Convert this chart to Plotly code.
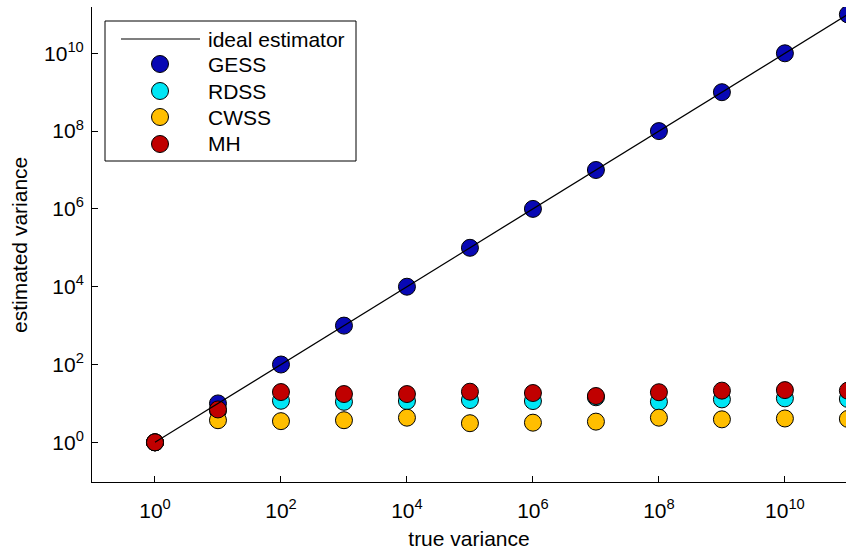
import plotly.graph_objects as go

true_var = [1e0, 1e1, 1e2, 1e3, 1e4, 1e5, 1e6, 1e7, 1e8, 1e9, 1e10, 1e11]
gess = [1.0, 10.0, 100.0, 1e3, 1e4, 1e5, 1e6, 1e7, 1e8, 1e9, 1e10, 1e11]
rdss = [1.0, 6.5, 11.7, 11.0, 11.5, 12.2, 11.5, 14.4, 11.0, 12.7, 13.5, 13.0]
cwss = [1.0, 3.7, 3.5, 3.7, 4.3, 3.1, 3.2, 3.4, 4.3, 3.9, 4.1, 4.0]
mh = [1.0, 7.0, 19.6, 17.4, 17.4, 20.0, 18.5, 15.5, 19.4, 21.3, 22.0, 21.3]
ideal_x = [1e0, 1e12]

tick_vals = [1e0, 1e2, 1e4, 1e6, 1e8, 1e10]
tick_text = ["10<sup>0</sup>", "10<sup>2</sup>", "10<sup>4</sup>", "10<sup>6</sup>",
             "10<sup>8</sup>", "10<sup>10</sup>"]

legend_names = ["ideal estimator", "GESS", "RDSS", "CWSS", "MH"]
x_title = "true variance"
y_title = "estimated variance"

FONT = "Liberation Sans, Arial, Helvetica, sans-serif"
W, H = 846, 550
ML, MR, MT, MB = 92, 0, 7, 68
PW, PH = W - ML - MR, H - MT - MB

series = [
    ("GESS", gess, "#0808b4"),
    ("RDSS", rdss, "#00e6f5"),
    ("CWSS", cwss, "#ffbe00"),
    ("MH", mh, "#c00000"),
]

fig = go.Figure()
for name, vals, col in series:
    fig.add_trace(go.Scatter(
        x=true_var, y=vals, mode="markers", name=name,
        marker=dict(size=17, color=col, line=dict(color="black", width=1)),
        showlegend=False,
    ))
fig.add_trace(go.Scatter(
    x=ideal_x, y=ideal_x, mode="lines", name="ideal estimator",
    line=dict(color="black", width=1.2), showlegend=False,
))


def px(x):
    return (x - ML) / PW


def py(y):
    return (H - MB - y) / PH


# legend (drawn by hand to match the reference layout)
shapes = [dict(type="rect", xref="paper", yref="paper",
               x0=px(105), x1=px(356), y0=py(21), y1=py(161),
               line=dict(color="black", width=1), fillcolor="white", layer="above")]
row_y = [39, 64, 91, 117, 144]
shapes.append(dict(type="line", xref="paper", yref="paper",
                   x0=px(121), x1=px(200), y0=py(row_y[0]), y1=py(row_y[0]),
                   line=dict(color="black", width=1.2)))
for (name, vals, col), yy in zip(series, row_y[1:]):
    shapes.append(dict(type="circle", xref="paper", yref="paper",
                       xsizemode="pixel", ysizemode="pixel",
                       xanchor=px(160), yanchor=py(yy),
                       x0=-8.5, x1=8.5, y0=-8.5, y1=8.5,
                       fillcolor=col, line=dict(color="black", width=1)))
annotations = []
for name, yy in zip(legend_names, row_y):
    annotations.append(dict(text=name, xref="paper", yref="paper",
                            x=px(206), y=py(yy), xanchor="left", yanchor="middle",
                            showarrow=False,
                            font=dict(size=21, color="black", family=FONT)))
# y axis title
annotations.append(dict(text=y_title, xref="paper", yref="paper",
                        x=px(19), y=py(245), xanchor="center", yanchor="middle",
                        textangle=-90, showarrow=False,
                        font=dict(size=21, color="black", family=FONT)))

axis_common = dict(
    type="log", showgrid=False, zeroline=False, showline=True,
    linecolor="black", linewidth=1, ticks="inside", ticklen=6,
    tickcolor="black", tickwidth=1, tickvals=tick_vals, ticktext=tick_text,
    tickfont=dict(size=21, color="black", family=FONT),
    title_font=dict(size=21, color="black", family=FONT),
    mirror=False, automargin=False,
)

fig.update_layout(
    width=W, height=H,
    margin=dict(l=ML, r=MR, t=MT, b=MB),
    paper_bgcolor="white", plot_bgcolor="white",
    font=dict(family=FONT, size=21, color="black"),
    xaxis=dict(axis_common, range=[-1.0, 10.97], title_text=x_title,
               title_standoff=10, ticklabelstandoff=10),
    yaxis=dict(axis_common, range=[-1.02, 11.19], ticklabelstandoff=3),
    showlegend=False,
    shapes=shapes,
    annotations=annotations,
)

fig.write_html(
    "out.html",
    config={"displayModeBar": False},
    post_script="document.body.style.margin='0';document.body.style.overflow='hidden';",
)
